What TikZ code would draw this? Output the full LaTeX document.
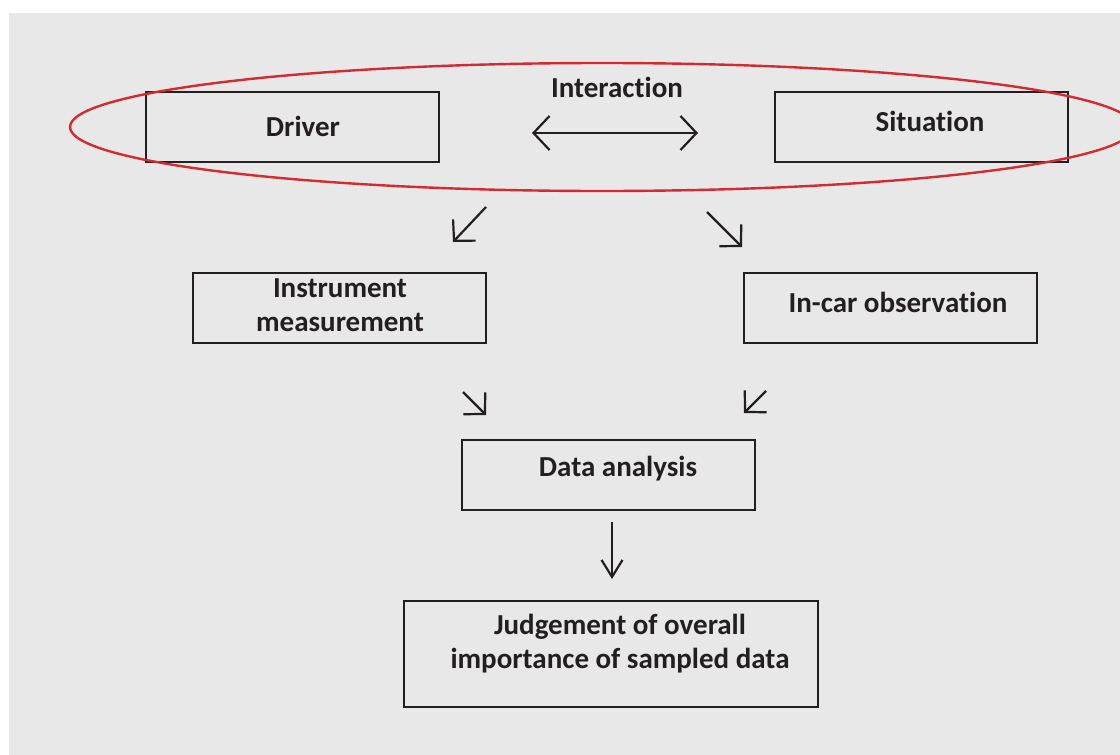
\documentclass[tikz,border=0pt]{standalone}
\usepackage{fontspec}
\setmainfont[RawFeature=-liga]{Carlito}
\usetikzlibrary{arrows.meta,calc}
\definecolor{bg}{HTML}{E8E8E8}
\definecolor{ink}{HTML}{231F20}
\definecolor{ring}{HTML}{D42A32}
\tikzset{
  box/.style={draw=ink,line width=2.4pt,minimum width=293pt,minimum height=70pt,inner sep=0pt,anchor=center},
  txt/.style={text=ink,font=\fontsize{29}{34}\selectfont\bfseries,align=center,inner sep=0pt},
  diagtip/.tip={Straight Barb[length=15pt,width=31pt]},
  conn/.style={draw=ink,line width=2.2pt,-diagtip},
  hconn/.style={draw=ink,line width=2.2pt,{Straight Barb[length=16pt,width=34pt]}-{Straight Barb[length=16pt,width=34pt]}},
  vconn/.style={draw=ink,line width=2.2pt,-{Straight Barb[length=17pt,width=21pt]}}
}
\begin{document}
\begin{tikzpicture}[x=1pt,y=-1pt]
\useasboundingbox (0,0) rectangle (1120,755);
\clip (0,0) rectangle (1120,755);
\fill[white] (0,0) rectangle (1120,755);
\fill[bg] (9,13) rectangle (1120,755);

% boxes
\node[box] (driver) at (292.5,127) {};
\node[box] (situation) at (921.5,127) {};
\node[box] (instr) at (339.5,308) {};
\node[box] (incar) at (890.5,308) {};
\node[box] (data) at (608.5,475) {};
\node[box,minimum width=414pt,minimum height=106pt] (judge) at (611,654) {};

% texts
\node[txt] (tdriver) at (303,126) {Driver};
\node[txt] (tsituation) at (930,121) {Situation};
\node[txt] (tinteraction) at (617,87) {Interaction};
\node[txt] (tinstr) at (340,305) {Instrument\\measurement};
\node[txt] (tincar) at (898,302) {In-car observation};
\node[txt] (tdata) at (618,469) {Data analysis};
\node[txt] (tjudge) at (620,644) {Judgement of overall\\importance of sampled data};

% red ellipse
\draw[ring,line width=2.4pt] (602,127) ellipse [x radius=532pt, y radius=64pt];

% arrows
\coordinate (ia) at (532,133);
\coordinate (ib) at (698,133);
\draw[hconn] (ia) -- (ib);

\coordinate (a1s) at (486,207);
\coordinate (a1e) at (453,242);
\draw[conn] (a1s) -- (a1e);

\coordinate (a2s) at (707,212);
\coordinate (a2e) at (742,247);
\draw[conn] (a2s) -- (a2e);

\coordinate (a3s) at (463,392);
\coordinate (a3e) at (486,415);
\draw[conn] (a3s) -- (a3e);

\coordinate (a4s) at (766,391);
\coordinate (a4e) at (744,413);
\draw[conn] (a4s) -- (a4e);

\coordinate (a5s) at (612,522);
\coordinate (a5e) at (612,579);
\draw[vconn] (a5s) -- (a5e);
\end{tikzpicture}
\end{document}
